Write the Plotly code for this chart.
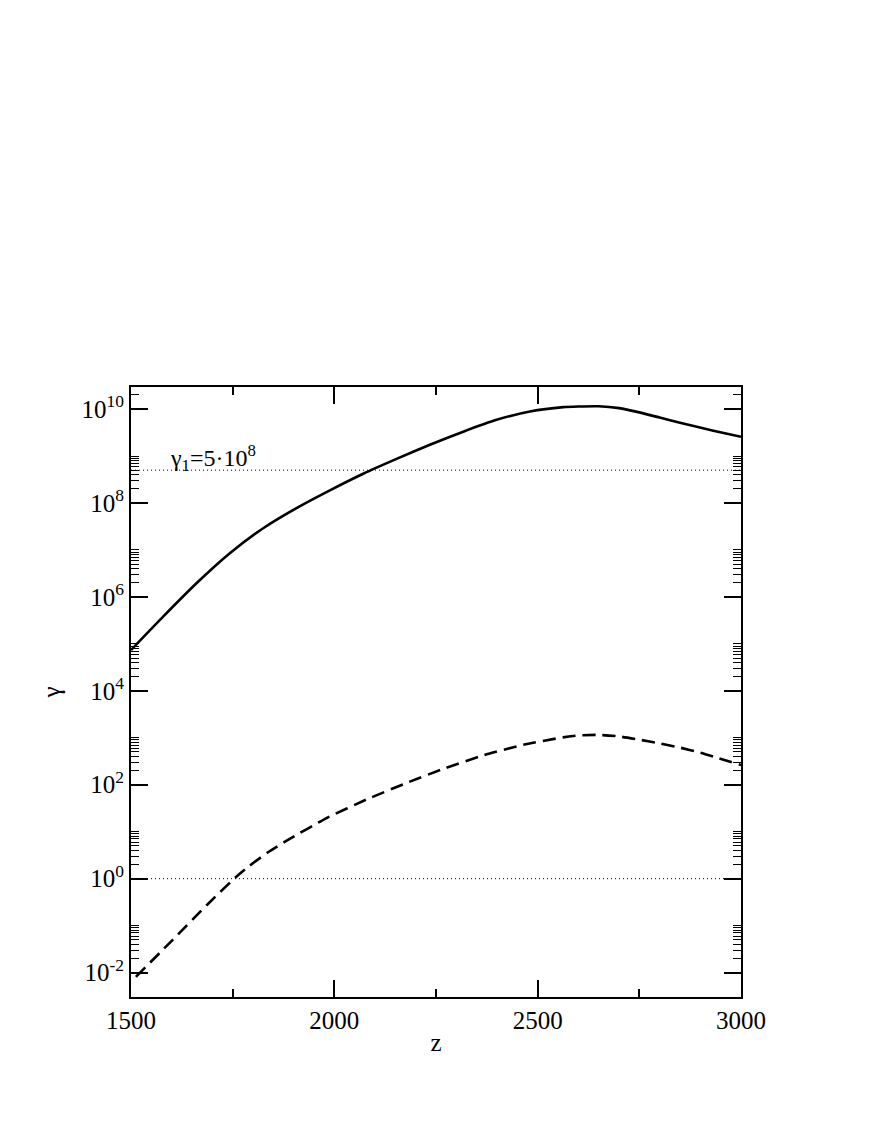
import plotly.graph_objects as go

# ---- data ----
z_solid = [1500, 1579, 1661, 1743, 1825, 1907, 1989, 2071, 2153, 2235,
           2317, 2399, 2481, 2563, 2600, 2650, 2700, 2750, 2800, 2850, 2932, 3000]
gamma_solid = [7.4e4, 3.8e5, 1.95e6, 8.5e6, 2.9e7, 7.8e7, 1.86e8, 4.2e8, 8.7e8, 1.74e9,
               3.3e9, 5.9e9, 8.9e9, 1.10e10, 1.135e10, 1.148e10, 1.047e10, 8.5e9, 6.6e9,
               5.1e9, 3.47e9, 2.57e9]

z_dashed = [1512, 1594, 1691, 1759, 1788, 1836, 1885, 1981, 2078, 2175, 2272,
            2368, 2465, 2562, 2600, 2650, 2700, 2750, 2800, 2850, 2900, 3000]
gamma_dashed = [8.1e-3, 4.2e-2, 0.30, 1.1, 1.78, 3.6, 6.6, 19.5, 48, 107, 224,
                427, 708, 1020, 1120, 1150, 1070, 910, 760, 617, 479, 263]

z_ref = [1500, 3000]
gamma1 = 5e8
gamma_unit = 1.0

x_ticks = [1500, 2000, 2500, 3000]
x_minor = [1750, 2250, 2750]
y_major_exp = [-2, 0, 2, 4, 6, 8, 10]
y_ticktext = ["10<sup>%d</sup>" % e for e in y_major_exp]

FONT = "Liberation Serif"

y_major = [10.0 ** e for e in y_major_exp]
y_minor = []
for e in y_major_exp:
    for k in range(2, 11):
        v = k * 10.0 ** e
        if v < 10 ** 10.47:
            y_minor.append(v)

fig = go.Figure()
fig.add_trace(go.Scatter(x=z_ref, y=[gamma1, gamma1], mode="lines",
                         line=dict(color="black", width=1, dash="1px,3px"),
                         showlegend=False, hoverinfo="skip"))
fig.add_trace(go.Scatter(x=z_ref, y=[gamma_unit, gamma_unit], mode="lines",
                         line=dict(color="black", width=1, dash="1px,3px"),
                         showlegend=False, hoverinfo="skip"))
fig.add_trace(go.Scatter(x=z_solid, y=gamma_solid, mode="lines",
                         line=dict(color="black", width=2.6, shape="spline", smoothing=0.6),
                         showlegend=False))
fig.add_trace(go.Scatter(x=z_dashed, y=gamma_dashed, mode="lines",
                         line=dict(color="black", width=2.6, dash="13px,7px",
                                   shape="spline", smoothing=0.6),
                         showlegend=False))

fig.add_annotation(x=1590, y=8.96, xref="x", yref="y",
                   text="γ<sub>1</sub>=5·10<sup>8</sup>", showarrow=False,
                   xanchor="left", yanchor="middle",
                   font=dict(family=FONT, size=24, color="black"))

fig.update_layout(
    width=872, height=1128,
    margin=dict(l=123, r=139, t=379, b=139),
    paper_bgcolor="white", plot_bgcolor="white",
    font=dict(family=FONT, size=25, color="black"),
    showlegend=False,
)
fig.update_xaxes(
    range=[1500, 3000], tickvals=x_ticks, ticks="inside", ticklen=17, tickwidth=1.5,
    tickcolor="black", showline=True, linecolor="black", linewidth=2, mirror="ticks",
    showgrid=False, zeroline=False, tickfont=dict(family=FONT, size=25),
    minor=dict(tickvals=x_minor, ticks="inside", ticklen=8, tickwidth=1.5, tickcolor="black",
               showgrid=False),
    title=dict(text="z", font=dict(family=FONT, size=25), standoff=0),
)
fig.update_yaxes(
    type="log", range=[-2.52, 10.47], tickvals=y_major, ticktext=y_ticktext,
    ticks="inside", ticklen=17, tickwidth=1.5, tickcolor="black",
    showline=True, linecolor="black", linewidth=2, mirror="ticks",
    showgrid=False, zeroline=False, tickfont=dict(family=FONT, size=25),
    minor=dict(tickvals=y_minor, ticks="inside", ticklen=8, tickwidth=1.2, tickcolor="black",
               showgrid=False),
    title=dict(text="γ", font=dict(family=FONT, size=25), standoff=14),
)

fig.write_html("out.html")
